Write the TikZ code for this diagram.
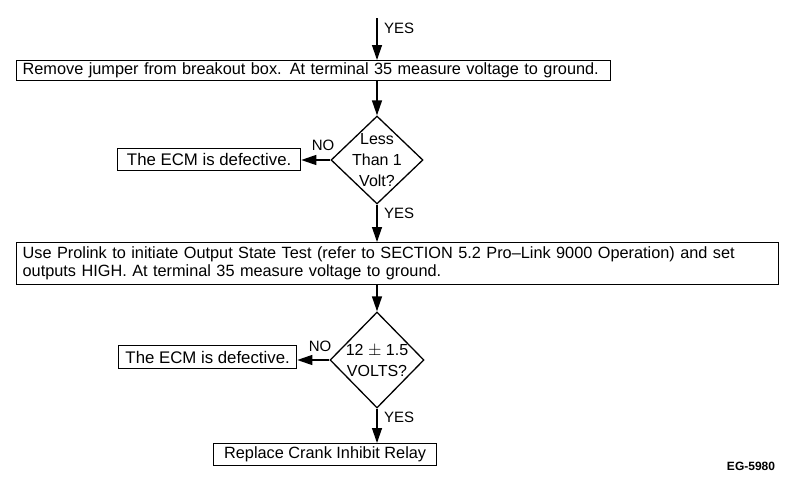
\documentclass[tikz,border=0pt]{standalone}
\usepackage{fontspec}
\setmainfont{Liberation Sans}
\usetikzlibrary{arrows.meta,shapes.geometric}
\begin{document}
\begin{tikzpicture}[x=1pt,y=-1pt,
  every node/.style={font=\fontsize{16.3}{18}\selectfont, inner sep=0pt},
  box/.style={draw, line width=1.3pt, rectangle, anchor=north west, inner xsep=6pt},
  dia/.style={draw, line width=1.3pt, diamond, minimum width=92pt, minimum height=88pt},
  diatext/.style={align=center, font=\fontsize{16}{21}\selectfont},
  arr/.style={line width=1.3pt, -{Triangle[length=15pt,width=10pt]}},
  lab/.style={font=\fontsize{15}{17}\selectfont}]
\useasboundingbox (0,0) rectangle (800,479);
\coordinate (start) at (377,18);
\node[box, minimum width=594pt, minimum height=20pt, text width=582pt, align=left] (b1) at (16,60) {Remove jumper from breakout box. At terminal 35 measure voltage to ground.};
\node[dia] (d1) at (377,160) {};
\node[diatext] (t1) at (d1.center) {Less\\Than 1\\Volt?};
\node[box, minimum width=183pt, minimum height=22pt, font=\fontsize{16.8}{18}\selectfont] (e1) at (117,148) {The ECM is defective.};
\node[box, minimum width=762pt, minimum height=42pt, text width=750pt, align=left] (b2) at (16,242) {Use Prolink to initiate Output State Test (refer to SECTION 5.2 Pro{\textendash}Link 9000 Operation) and set\\outputs HIGH. At terminal 35 measure voltage to ground.};
\node[dia, minimum width=94pt, minimum height=96pt] (d2) at (377,360) {};
\node[diatext] (t2) at (d2.center) {12 $\pm$ 1.5\\VOLTS?};
\node[box, minimum width=178pt, minimum height=23pt, font=\fontsize{16.8}{18}\selectfont] (e2) at (118,345) {The ECM is defective.};
\node[box, minimum width=223pt, minimum height=22pt] (b3) at (213,443) {Replace Crank Inhibit Relay};
\draw[arr] (start) -- (b1.north -| start);
\draw[arr] (b1.south -| d1) -- (d1.north);
\draw[arr] (d1.west) -- (e1.east |- d1.west);
\draw[arr] (d1.south) -- (b2.north -| d1);
\draw[arr] (b2.south -| d2) -- (d2.north);
\draw[arr] (d2.west) -- (e2.east |- d2.west);
\draw[arr] (d2.south) -- (b3.north -| d2);
\node[lab, anchor=west] (y0) at (384,28) {YES};
\node[lab] (n1) at (323,145) {NO};
\node[lab, anchor=west] (y1) at (384,213) {YES};
\node[lab] (n2) at (320,346) {NO};
\node[lab, anchor=west] (y2) at (384,417) {YES};
\node[font=\bfseries\fontsize{12}{14}\selectfont] (eg) at (751,466) {EG-5980};
\end{tikzpicture}
\end{document}
